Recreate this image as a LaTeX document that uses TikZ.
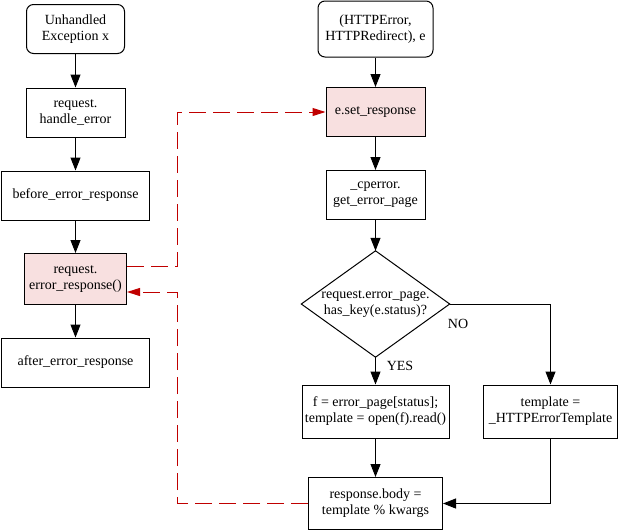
\documentclass[tikz,border=0pt]{standalone}
\usepackage{fontspec}
\setmainfont{Liberation Serif}
\usetikzlibrary{arrows.meta}
\definecolor{hilite}{RGB}{248,224,224}
\definecolor{errred}{RGB}{192,0,0}
\begin{document}
\begin{tikzpicture}[x=1pt,y=-1pt,
  every node/.style={font=\fontsize{14}{16}\selectfont, align=center, inner sep=0pt},
  box/.style={draw, line width=1pt, rectangle},
  startbox/.style={box, rounded corners=7pt},
  hot/.style={box, fill=hilite},
  flow/.style={draw, line width=1pt, -{Triangle[length=13pt,width=10pt]}},
  redflow/.style={draw=errred, color=errred, line width=1pt, dash pattern=on 17pt off 7pt,
    -{Triangle[length=13pt,width=8pt]}},
  lbl/.style={font=\fontsize{14}{16}\selectfont}]
\useasboundingbox (0,0) rectangle (618,531);

% left column: generic exception path
\node[startbox, minimum width=98pt, minimum height=49pt] (ex) at (75.5,29) {Unhandled\\Exception x};
\node[box, minimum width=99pt, minimum height=49pt] (he) at (75.5,112.5) {request.\\handle\_error};
\node[box, minimum width=148pt, minimum height=49pt] (ber) at (75.5,195.5) {before\_error\_response};
\node[hot, minimum width=102pt, minimum height=51pt] (erp) at (75.5,279) {request.\\error\_response()};
\node[box, minimum width=148pt, minimum height=49pt] (aer) at (75.5,362.5) {after\_error\_response};

% right column: HTTP error / redirect path
\node[startbox, minimum width=115pt, minimum height=56pt] (hte) at (375.5,29) {(HTTPError,\\HTTPRedirect), e};
\node[hot, minimum width=99pt, minimum height=49pt] (sr) at (375.5,112) {e.set\_response};
\node[box, minimum width=99pt, minimum height=49pt] (cp) at (375.5,195) {\_cperror.\\get\_error\_page};
\node[minimum width=148pt, minimum height=106pt] (dia) at (375.5,304) {request.error\_page.\\has\_key(e.status)?};
\draw[line width=1pt] (dia.north) -- (dia.east) -- (dia.south) -- (dia.west) -- cycle;
\node[box, minimum width=147pt, minimum height=53pt] (fe) at (375.5,411.5) {f = error\_page[status];\\template = open(f).read()};
\node[box, minimum width=134pt, minimum height=53pt] (tpl) at (550.5,411.5) {template =\\\_HTTPErrorTemplate};
\node[box, minimum width=134pt, minimum height=52pt] (rb) at (375.5,503.5) {response.body =\\template \% kwargs};

% branch labels
\node[lbl] (no) at (458,323.5) {NO};
\node[lbl] (yes) at (400,365.5) {YES};

% main flow
\path[flow] (ex) -- (he);
\path[flow] (he) -- (ber);
\path[flow] (ber) -- (erp);
\path[flow] (erp) -- (aer);
\path[flow] (hte) -- (sr);
\path[flow] (sr) -- (cp);
\path[flow] (cp) -- (dia.north);
\path[flow] (dia.south) -- (fe);
\path[flow] (dia.east) -| (tpl.north);
\path[flow] (fe) -- (rb);
\path[flow] (tpl.south) |- (rb.east);

% cross links between the two paths
\coordinate (rx) at (177.5,0);
\coordinate (erpout) at ([yshift=13pt]erp.east);
\coordinate (erpin) at ([yshift=-13pt]erp.east);
\path[redflow] (erpout) -- (erpout -| rx) |- (sr.west);
\path[redflow] (rb.west) -- (rb.west -| rx) |- (erpin);
\end{tikzpicture}
\end{document}
